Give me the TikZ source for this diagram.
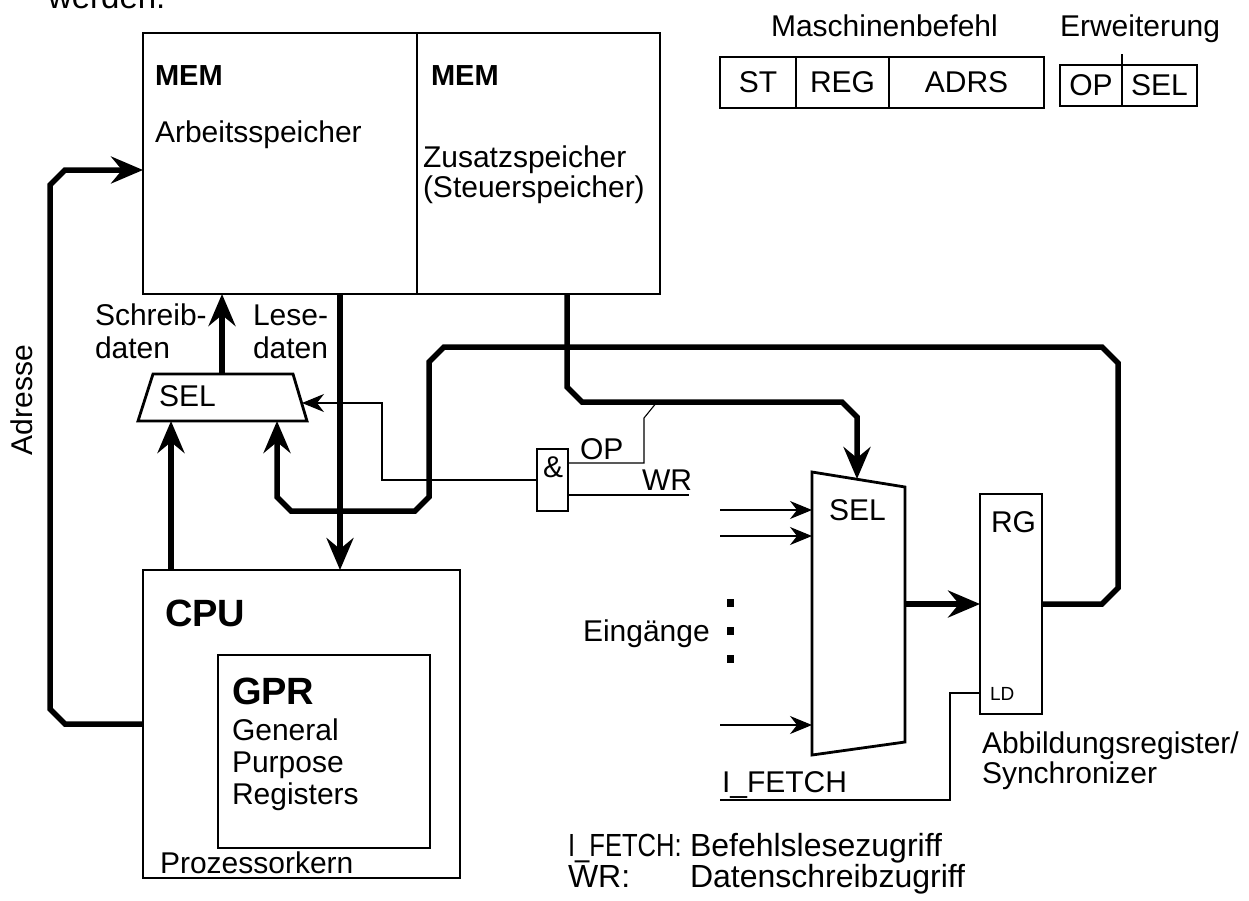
\documentclass[tikz,border=0pt]{standalone}
\usepackage{fontspec}
\setmainfont{Liberation Sans}
\usetikzlibrary{arrows.meta}
\tikzset{
  every node/.style={inner sep=0pt, outer sep=0pt},
  txt/.style={anchor=base west, font=\fontsize{30}{36}\selectfont},
  memlbl/.style={anchor=base west, font=\fontsize{29}{34}\selectfont\bfseries},
  biglbl/.style={anchor=base west, font=\fontsize{38}{44}\selectfont\bfseries},
  legend/.style={anchor=base west, font=\fontsize{32}{36}\selectfont},
  smalllbl/.style={anchor=base west, font=\fontsize{19}{22}\selectfont},
  block/.style={draw, line width=2.5pt, anchor=north west},
  thinblock/.style={draw, line width=1.2pt, anchor=north west},
  field/.style={draw, line width=2.2pt, anchor=north west, font=\fontsize{30}{36}\selectfont},
  outline/.style={line width=2.8pt, line join=miter},
  bus/.style={line width=5.5pt, line join=miter},
  sig/.style={line width=1.1pt},
  bigtip/.style={-{Stealth[length=32pt,width=27pt,inset=11pt]}},
  smalltip/.style={-{Stealth[length=22pt,width=18pt,inset=7pt]}},
}
\begin{document}
\begin{tikzpicture}[x=1pt,y=-1pt]
\useasboundingbox (0,0) rectangle (1249,900);
\clip (0,0) rectangle (1249,900);

% running text above the figure
\node[anchor=base west, font=\fontsize{33}{38}\selectfont] (werden) at (48,8) {werden.};

% ---------- memory ----------
\node[block, minimum width=274pt, minimum height=261pt] (arb) at (143,33) {};
\node[block, minimum width=243pt, minimum height=261pt] (zus) at (417,33) {};
\node[memlbl] (memA) at (155,85) {MEM};
\node[txt] (arbT) at (155,142) {Arbeitsspeicher};
\node[memlbl] (memB) at (431,85) {MEM};
\node[txt] (zusT1) at (423,167) {Zusatzspeicher};
\node[txt] (zusT2) at (423,197) {(Steuerspeicher)};

% ---------- instruction format ----------
\node[txt] (mbT) at (771,36) {Maschinenbefehl};
\node[field, minimum width=76pt, minimum height=51pt] (fST) at (720,57) {ST};
\node[field, minimum width=93pt, minimum height=51pt] (fREG) at (796,57) {REG};
\node[field, minimum width=155pt, minimum height=51pt] (fADRS) at (889,57) {ADRS};
\node[txt] (ewT) at (1060,36) {Erweiterung};
\node[field, minimum width=62pt, minimum height=41pt] (fOP) at (1060,65) {OP};
\node[field, minimum width=75pt, minimum height=41pt] (fSEL) at (1122,65) {SEL};
\draw[sig] (fOP.north east) -- ++(0,-11);

% ---------- CPU ----------
\node[block, minimum width=317pt, minimum height=308pt] (cpu) at (143,570) {};
\node[biglbl] (cpuT) at (165,626) {CPU};
\node[thinblock, minimum width=212pt, minimum height=193pt] (gpr) at (218,655) {};
\node[biglbl] (gprT) at (232,704) {GPR};
\node[txt] (g1) at (232,740) {General};
\node[txt] (g2) at (232,772) {Purpose};
\node[txt] (g3) at (232,804) {Registers};
\node[txt] (pk) at (160,873) {Prozessorkern};

% ---------- data selector ----------
\coordinate (sTL) at (153,374);
\coordinate (sTR) at (293,374);
\coordinate (sBR) at (307,421);
\coordinate (sBL) at (138,421);
\draw[outline] (sTL) -- (sTR) -- (sBR) -- (sBL) -- cycle;
\node[txt] (selA) at (159,406) {SEL};
\coordinate (sOut) at (222,374);
\coordinate (sIn1) at (171,421);
\coordinate (sIn2) at (277,421);
\coordinate (sCtl) at (302,403);

\draw[bus, bigtip] (sOut) -- (sOut |- arb.south);
\draw[bus, bigtip] (sIn1 |- cpu.north) -- (sIn1);
\coordinate (leseX) at (340,0);
\draw[bus, bigtip] (arb.south -| leseX) -- (cpu.north -| leseX);

\node[txt] (sd1) at (95,325) {Schreib-};
\node[txt] (sd2) at (95,358) {daten};
\node[txt] (ld1) at (253,325) {Lese-};
\node[txt] (ld2) at (253,358) {daten};

% ---------- address bus ----------
\coordinate (adrTop) at (143,170);
\draw[bus, bigtip] (cpu.west) -- (65,724) -- (50,709) -- (50,185) -- (65,170) -- (arb.west |- adrTop);
\node[txt, rotate=90, anchor=center] (adrT) at (22,400) {Adresse};

% ---------- register and selector ----------
\node[block, minimum width=62pt, minimum height=220pt] (rg) at (980,494) {};
\node[txt] (rgT) at (991,532) {RG};
\node[smalllbl] (ldT) at (990,700) {LD};

\coordinate (mTL) at (812,472);
\coordinate (mTR) at (905,487);
\coordinate (mBR) at (905,742);
\coordinate (mBL) at (812,755);
\draw[outline] (mTL) -- (mTR) -- (mBR) -- (mBL) -- cycle;
\node[txt] (selM) at (829,520) {SEL};
\coordinate (mIn) at (857,479);
\coordinate (mOut) at (905,604);
\draw[bus, bigtip] (mOut) -- (rg.west);

% feedback from register to data selector
\draw[bus, bigtip] (rg.east) -- (1102,604) -- (1118,588) -- (1118,363) -- (1102,347)
  -- (444,347) -- (429,362) -- (429,497) -- (415,511) -- (291,511) -- (277,497) -- (sIn2);

% control memory output to selector
\coordinate (zusX) at (567,0);
\draw[bus, bigtip] (zus.south -| zusX) -- (567,387) -- (582,402) -- (842,402) -- (857,417) -- (mIn);

% selector inputs
\coordinate (e1) at (720,510);
\coordinate (e2) at (720,536);
\coordinate (e3) at (720,725);
\draw[sig, smalltip] (e1) -- (e1 -| mTL);
\draw[sig, smalltip] (e2) -- (e2 -| mTL);
\draw[sig, smalltip] (e3) -- (e3 -| mTL);
\fill (726.5,599) rectangle ++(7,8);
\fill (726.5,627) rectangle ++(7,8);
\fill (726.5,655) rectangle ++(7,8);
\node[txt] (eing) at (583,641) {Eingänge};

% load signal
\coordinate (ldIn) at (980,693);
\coordinate (ifetch) at (720,800);
\draw[sig] (ldIn) -- (950,693) -- (950,800) -- (ifetch);
\node[txt] (ifT) at (722,792) {I\_FETCH};
\node[txt] (abT1) at (982,753) {Abbildungsregister/};
\node[txt] (abT2) at (982,783) {Synchronizer};

% ---------- AND gate ----------
\node[block, minimum width=31pt, minimum height=62pt, line width=2.4pt] (andg) at (537,449) {};
\node[anchor=center, font=\fontsize{30}{36}\selectfont] (andT) at (553,467) {\&};
\coordinate (ctlBend) at (382,480);
\draw[sig, smalltip] (andg.west) -- (ctlBend) -- (ctlBend |- sCtl) -- (sCtl);
\coordinate (opB) at (644,463);
\coordinate (opJ) at (657,402);
\draw[sig] (andg.east |- opB) -- (opB) -- (644,418) -- (opJ);
\node[txt] (opT) at (580,459) {OP};
\coordinate (wrE) at (689,495);
\draw[sig] (andg.east |- wrE) -- (wrE);
\node[txt] (wrT) at (642,490) {WR};

% ---------- legend ----------
\node[legend] (lg1) at (568,856) {\scalebox{0.8}[1]{I\_FETCH:}};
\node[legend] (lg2) at (690,856) {Befehlslesezugriff};
\node[legend] (lg3) at (568,887) {WR:};
\node[legend] (lg4) at (690,887) {Datenschreibzugriff};
\end{tikzpicture}
\end{document}
